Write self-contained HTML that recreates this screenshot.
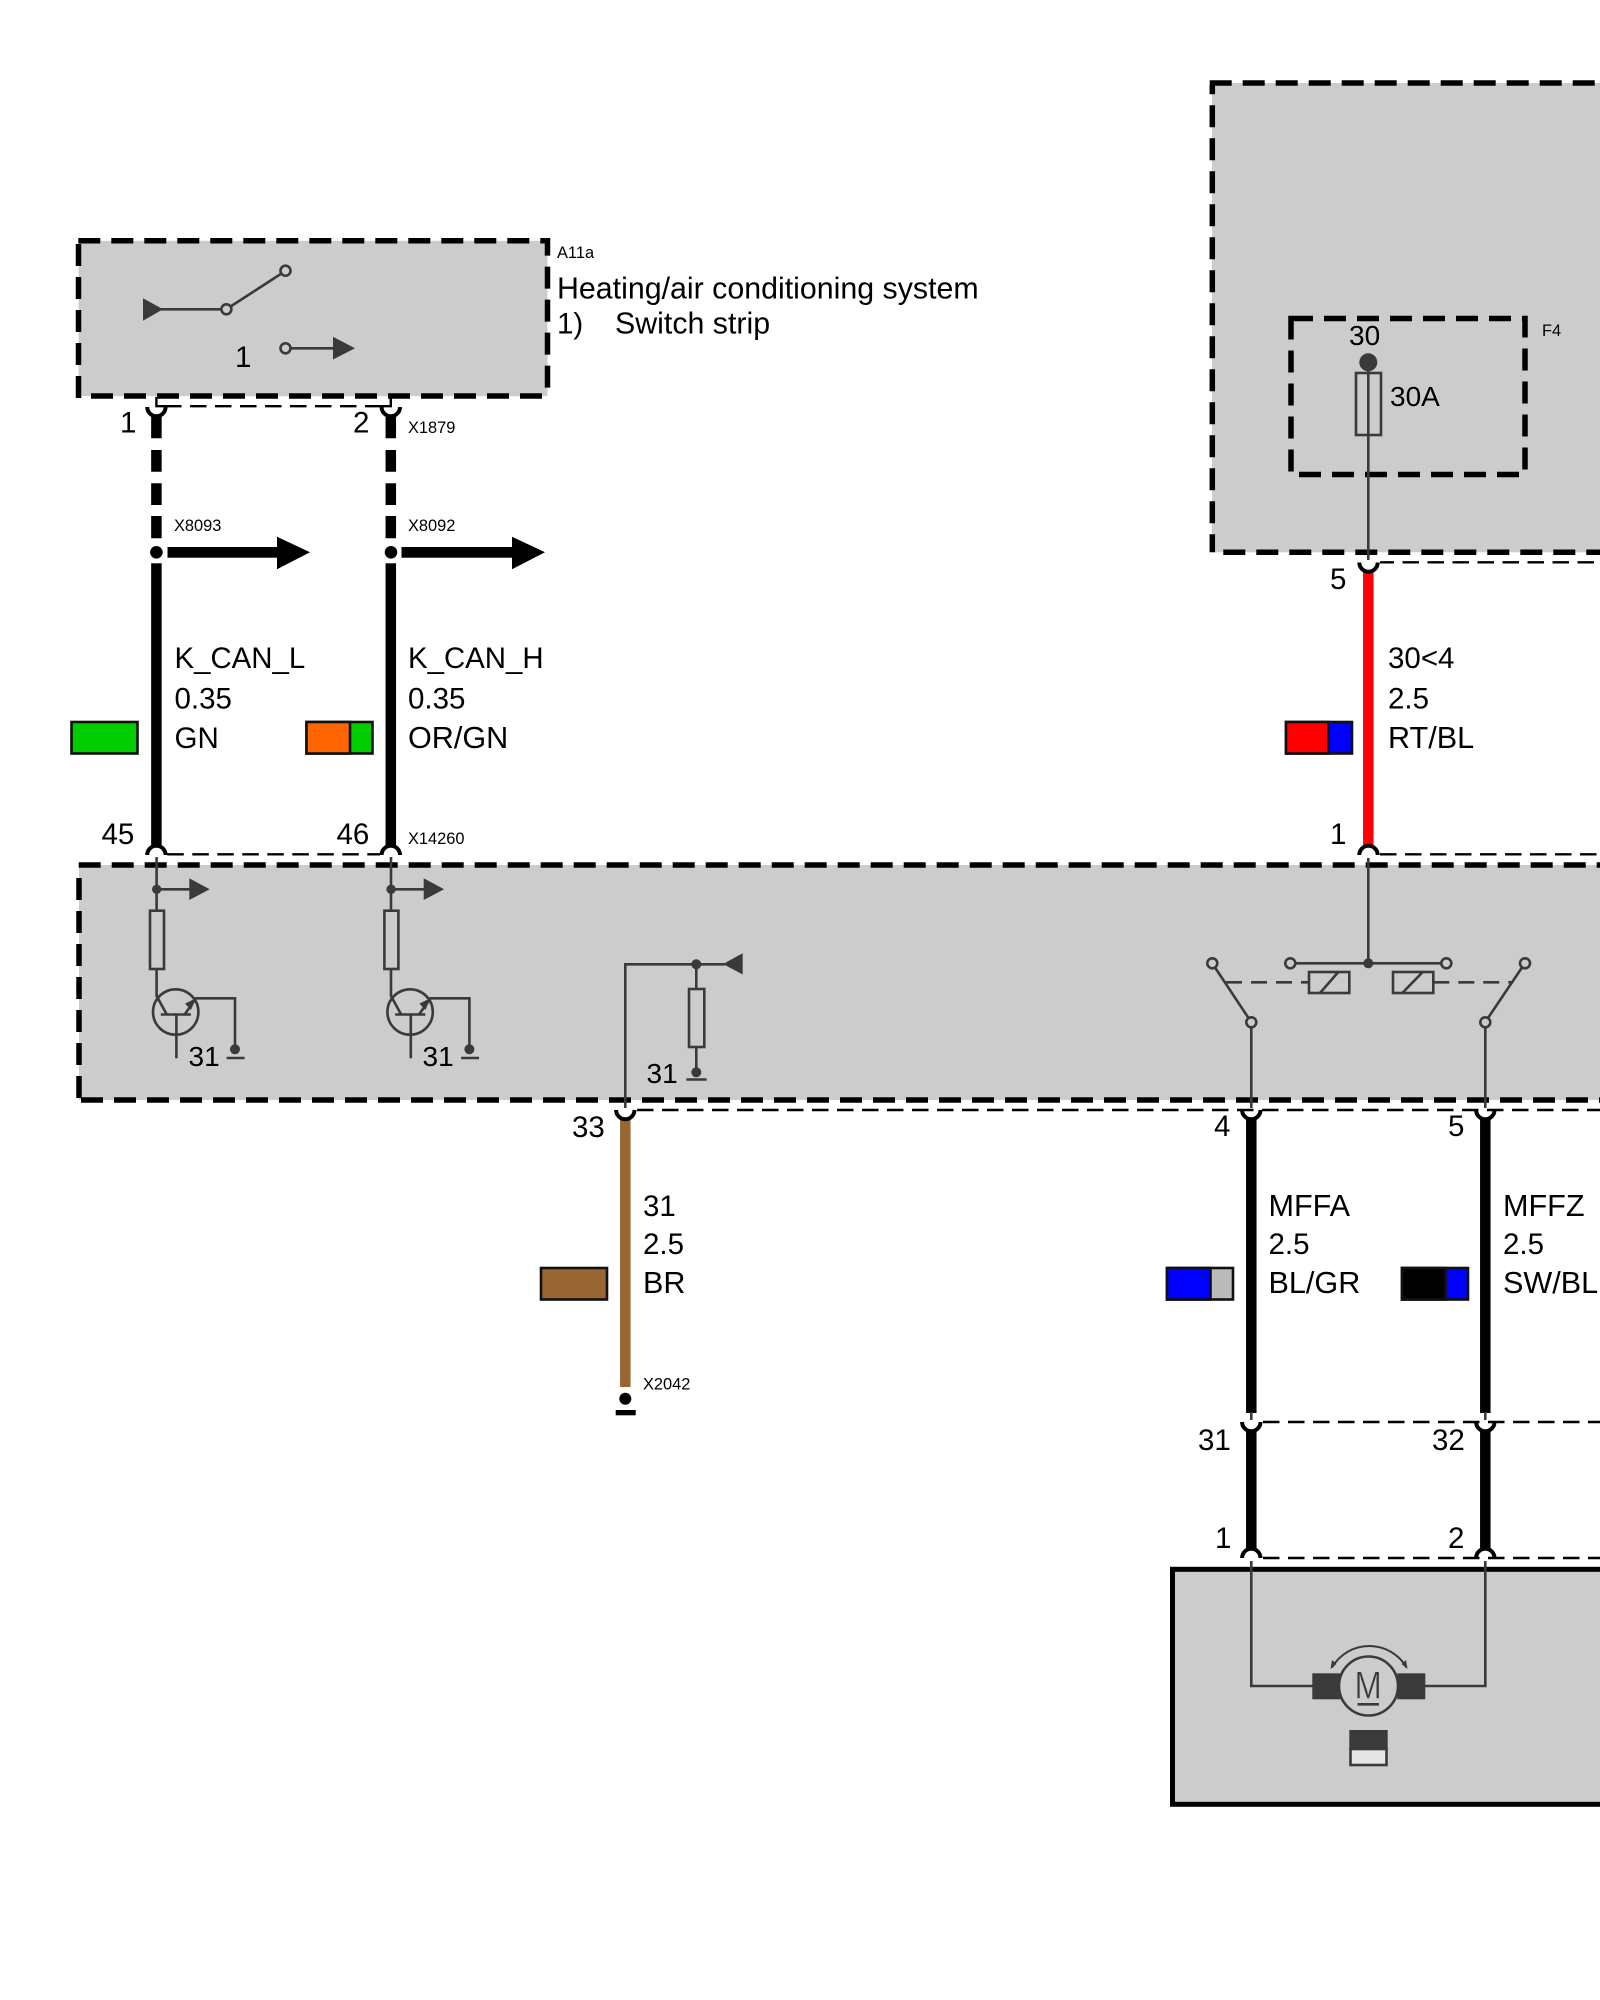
<!DOCTYPE html>
<html><head><meta charset="utf-8"><style>
html,body{margin:0;padding:0;background:#fff}
svg{display:block}
text{font-family:"Liberation Sans",Arial,sans-serif;fill:#000}
.t{font-size:29.5px}.u{font-size:30.6px}.h{font-size:30.35px}.k{font-size:29.4px}.s{font-size:16.4px}.i{font-size:28px}
.d{stroke:#000;stroke-width:5.5;stroke-dasharray:22 11;fill:none}
.c{stroke:#000;stroke-width:2.4;stroke-dasharray:16.5 8.5;fill:none}
.l{stroke:#3a3a3a;stroke-width:2.6;fill:none}
.o{stroke:#3a3a3a;stroke-width:2.6;fill:#ccc}
.w{stroke-width:10.5;fill:none;stroke:#000}
.sw{stroke:#111;stroke-width:2.6}
</style></head><body>
<svg xmlns="http://www.w3.org/2000/svg" width="1600" height="2000" viewBox="0 0 1600 2000">
<defs>
<path id="u" d="M-9.2,0A9.2,9.2 0 0 0 9.2,0" fill="#fff" stroke="#000" stroke-width="4"/>
<path id="n" d="M-9.2,0A9.2,9.2 0 0 1 9.2,0" fill="#fff" stroke="#000" stroke-width="4"/>
<g id="tr">
<path class="l" d="M156.6,857V910.7M156.6,969V996L166.5,1014"/>
<circle cx="156.7" cy="889.3" r="4.7" fill="#3a3a3a"/>
<path class="l" d="M157,889.3H190"/>
<polygon points="189.3,878.3 209.7,889.3 189.3,900" fill="#3a3a3a"/>
<rect class="o" x="150" y="910.7" width="14" height="58.3"/>
<circle class="l" cx="175.7" cy="1012" r="22.7"/>
<path class="l" d="M160.8,1014.5H190.9M176.4,1014.5V1058.3M185,1014L196,998.3H235V1049M226.7,1058H244.6"/>
<polygon points="196,998.3 185,1003.6 191,1010" fill="#3a3a3a"/>
<circle cx="235" cy="1049.3" r="5" fill="#3a3a3a"/>
</g>
</defs>

<!-- A11a box -->
<rect x="78.5" y="240.8" width="469" height="155.4" fill="#ccc"/>
<path class="d" d="M78.3,240.8H547.5V396"/>
<path class="d" d="M542,396H80"/>
<path class="d" d="M78.5,398V240"/>
<polygon points="143,298.3 163,309.3 143,320.7" fill="#3a3a3a"/>
<path class="l" d="M160,309.3H222M230.5,306.5L281.5,273.5M290.5,348.3H335"/>
<circle class="o" cx="226.4" cy="309.3" r="5"/>
<circle class="o" cx="285.5" cy="270.7" r="5"/>
<circle class="o" cx="285.5" cy="348.3" r="5"/>
<polygon points="333,336.7 355,348.3 333,359.5" fill="#3a3a3a"/>
<text class="t" x="235" y="367">1</text>
<text class="s" x="557" y="258">A11a</text>
<text class="h" x="557" y="298.5">Heating/air conditioning system</text>
<text class="t" x="557" y="333.5">1)</text>
<text class="h" x="615" y="333.5">Switch strip</text>

<!-- top right box -->
<rect x="1212" y="83" width="400" height="469.3" fill="#ccc"/>
<path class="d" d="M1209.7,83H1600"/>
<path class="d" d="M1212.3,552.3V85" stroke-dashoffset="4"/>
<path class="d" d="M1212.3,552.3H1600" stroke-dashoffset="22"/>
<rect class="d" x="1291" y="318.5" width="234" height="156"/>
<circle cx="1368.3" cy="362.3" r="9" fill="#3a3a3a"/>
<rect class="l" x="1356" y="373" width="25" height="62"/>
<path class="l" d="M1368.3,362V560"/>
<text x="1349" y="345" style="font-size:28px">30</text>
<text x="1390" y="406" style="font-size:28px">30A</text>
<text class="s" x="1542" y="336">F4</text>

<!-- main box -->
<rect x="79" y="865" width="1540" height="235" fill="#ccc"/>
<path class="d" d="M78.7,865H1600"/>
<path class="d" d="M79,1098V868"/>
<path class="d" d="M81,1100H1600"/>

<!-- wires -->
<g class="w">
<path d="M156.4,416.7V438.3M156.4,450V471.7M156.4,483.3V505M156.4,516V538.3M156.4,563.3V847"/>
<path d="M390.8,416.7V438.3M390.8,450V471.7M390.8,483.3V505M390.8,516V538.3M390.8,563.3V847"/>
<path d="M1368.3,572V847" style="stroke:#f00"/>
<path d="M625.3,1119V1387" style="stroke:#996633"/>
<path d="M1251.3,1118V1413M1251.3,1431V1551"/>
<path d="M1485.3,1118V1413M1485.3,1431V1551"/>
</g>

<use href="#u" x="156.4" y="407"/><use href="#u" x="390.8" y="407"/>
<use href="#n" x="156.4" y="855"/><use href="#n" x="390.8" y="855"/>
<use href="#u" x="1368.5" y="562.5"/><use href="#n" x="1368.5" y="855"/>
<use href="#u" x="625.3" y="1110"/>
<use href="#u" x="1251.3" y="1110"/><use href="#u" x="1485.3" y="1110"/>
<use href="#u" x="1251.3" y="1422"/><use href="#u" x="1485.3" y="1422"/>
<use href="#n" x="1251.3" y="1558"/><use href="#n" x="1485.3" y="1558"/>
<path class="l" d="M1251.3,1412V1420M1485.3,1412V1420"/>

<!-- connector dashed lines -->
<path d="M156.4,397V406.2H166M390.8,397V406.2H381" fill="none" stroke="#000" stroke-width="2.4"/>
<path class="c" d="M165,406.2H381"/>
<path class="c" d="M167.3,854.3H380"/>
<path class="c" d="M1380,562.3H1600" stroke-dashoffset="2.5"/>
<path class="c" d="M1380,854.3H1600"/>
<path class="c" d="M637,1110H1600"/>
<path class="c" d="M1263,1422H1600"/>
<path class="c" d="M1263,1558H1600"/>

<!-- X8093 X8092 arrows -->
<circle cx="156.4" cy="552.3" r="11" fill="#fff"/><circle cx="156.4" cy="552.3" r="6.3" fill="#000"/>
<circle cx="391" cy="552.3" r="11" fill="#fff"/><circle cx="391" cy="552.3" r="6.3" fill="#000"/>
<rect x="167.5" y="547" width="110" height="10.7"/><polygon points="277,536.7 310,552.3 277,569.3"/>
<rect x="401.5" y="547" width="111" height="10.7"/><polygon points="512,536.7 545,552.3 512,569.3"/>

<!-- labels on wires -->
<text class="t" x="120" y="432.5">1</text><text class="t" x="353" y="432.5">2</text>
<text class="s" x="408" y="433">X1879</text>
<text class="s" x="174" y="531">X8093</text><text class="s" x="408" y="531">X8092</text>
<text class="k" x="174.5" y="668">K_CAN_L</text><text class="t" x="174.5" y="708.5">0.35</text><text class="t" x="174.5" y="748">GN</text>
<text class="k" x="408" y="668">K_CAN_H</text><text class="t" x="408" y="708.5">0.35</text><text class="u" x="408" y="748">OR/GN</text>
<text class="t" x="1388" y="668">30&lt;4</text><text class="t" x="1388" y="708.5">2.5</text><text class="u" x="1388" y="748">RT/BL</text>
<text class="t" x="101.5" y="844">45</text><text class="t" x="336.5" y="844">46</text>
<text class="s" x="408" y="844">X14260</text>
<text class="t" x="1330" y="844">1</text>
<text class="t" x="1330" y="589">5</text>

<!-- swatches -->
<rect class="sw" x="71.5" y="722" width="66" height="31.5" fill="#0c0"/>
<rect class="sw" x="306.5" y="722" width="66" height="31.5" fill="#0c0"/><rect class="sw" x="306.5" y="722" width="43.5" height="31.5" fill="#f60"/>
<rect class="sw" x="1286" y="722" width="66" height="31.5" fill="#00f"/><rect class="sw" x="1286" y="722" width="42.5" height="31.5" fill="#f00"/>
<rect class="sw" x="541" y="1268" width="66" height="31.5" fill="#996633"/>
<rect class="sw" x="1167" y="1268" width="66" height="31.5" fill="#bbb"/><rect class="sw" x="1167" y="1268" width="43.5" height="31.5" fill="#00f"/>
<rect class="sw" x="1402" y="1268" width="66" height="31.5" fill="#00f"/><rect class="sw" x="1402" y="1268" width="43.5" height="31.5" fill="#000"/>

<!-- transistors -->
<use href="#tr"/><use href="#tr" x="234.4"/>
<text class="i" x="188.5" y="1066">31</text><text class="i" x="422.5" y="1066">31</text>

<!-- 33 circuit -->
<path class="l" d="M625.3,1108V964.3H725M696.3,964.3V989M696.3,1047V1072M686.3,1079.5H706.7"/>
<circle cx="696.3" cy="964.3" r="5" fill="#3a3a3a"/>
<polygon points="723,964 742.7,953.3 742.7,974.5" fill="#3a3a3a"/>
<rect class="o" x="689" y="989" width="15.3" height="58"/>
<circle cx="696.3" cy="1072.3" r="5" fill="#3a3a3a"/>
<text class="i" x="646.5" y="1083">31</text>
<text class="t" x="572" y="1137">33</text>
<text class="t" x="643" y="1216">31</text><text class="t" x="643" y="1254">2.5</text><text class="u" x="643" y="1293">BR</text>
<text class="s" x="643" y="1389.5">X2042</text>
<circle cx="625.3" cy="1398.7" r="6" fill="#000"/><rect x="615.7" y="1410" width="20" height="5.3"/>

<!-- relay -->
<path class="l" d="M1368.3,858V963.3M1295.5,963.3H1441.5"/>
<circle cx="1368.3" cy="963.3" r="5" fill="#3a3a3a"/>
<circle class="o" cx="1290.3" cy="963.3" r="5"/><circle class="o" cx="1446.3" cy="963.3" r="5"/>
<rect class="l" x="1309" y="972" width="40.3" height="21"/><path class="l" d="M1320,993L1338.3,972"/>
<rect class="l" x="1393" y="972" width="40.3" height="21"/><path class="l" d="M1402.3,993L1422.7,972"/>
<path class="l" d="M1226,982.3H1309M1433.3,982.3H1511.7" stroke-dasharray="16 9"/>
<path class="l" d="M1215,967.5L1248.5,1018M1522,967.5L1488,1018M1251.3,1027.5V1108M1485.3,1027.5V1108"/>
<circle class="o" cx="1212.3" cy="963.3" r="5"/><circle class="o" cx="1251.3" cy="1022.3" r="5"/>
<circle class="o" cx="1525" cy="963.3" r="5"/><circle class="o" cx="1485.3" cy="1022.3" r="5"/>
<text class="t" x="1214" y="1136">4</text><text class="t" x="1448" y="1136">5</text>
<text class="u" x="1268.5" y="1216">MFFA</text><text class="t" x="1268.5" y="1254">2.5</text><text class="u" x="1268.5" y="1293">BL/GR</text>
<text class="u" x="1503" y="1216">MFFZ</text><text class="t" x="1503" y="1254">2.5</text><text class="u" x="1503" y="1293">SW/BL</text>
<text class="t" x="1198" y="1450">31</text><text class="t" x="1432" y="1450">32</text>
<text class="t" x="1215" y="1548">1</text><text class="t" x="1448" y="1548">2</text>

<!-- motor box -->
<rect x="1172.5" y="1569.3" width="460" height="235" fill="#ccc" stroke="#000" stroke-width="5"/>
<path class="l" d="M1251.3,1561V1686H1315M1485.3,1561V1686H1420"/>
<rect x="1312.3" y="1673.3" width="28" height="26" fill="#3a3a3a"/>
<rect x="1397.3" y="1673.3" width="28" height="26" fill="#3a3a3a"/>
<circle class="o" cx="1368.5" cy="1686" r="29.5"/>
<text x="0" y="0" transform="translate(1354.5,1698.3) scale(.85,1)" style="font-size:38.5px;fill:#3a3a3a;stroke:#ccc;stroke-width:.5">M</text>
<path class="l" d="M1357.5,1704.3H1379"/>
<path d="M1332,1667.5A43,43 0 0 1 1406.5,1667.5" fill="none" stroke="#3a3a3a" stroke-width="2"/>
<polygon points="1330.5,1669 1332,1660 1336.5,1664" fill="#3a3a3a"/>
<polygon points="1407.5,1669 1406,1660 1401.5,1664" fill="#3a3a3a"/>
<rect x="1349.3" y="1730" width="38.4" height="19.5" fill="#3a3a3a"/>
<rect x="1350.5" y="1749" width="36" height="16" fill="#e6e6e6" stroke="#3a3a3a" stroke-width="2.6"/>
</svg>
</body></html>
